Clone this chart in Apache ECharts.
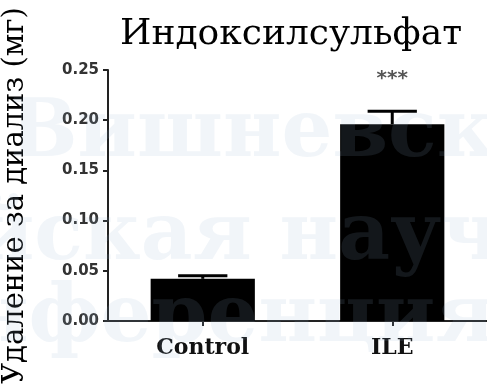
<!DOCTYPE html>
<html><head><meta charset="utf-8">
<script src="https://cdn.jsdelivr.net/npm/echarts@6/dist/echarts.min.js"></script>
<style>html,body{margin:0;padding:0;background:#fff}#c{width:487px;height:387px}</style>
</head><body><div id="c"></div>
<script>
const categories = ['Control', 'ILE'];
const means = [0.042, 0.196];
const errors = [0.003, 0.013];
const significance = ['', '***'];
const yTicks = [0, 0.05, 0.10, 0.15, 0.20, 0.25];
const titleText = 'Индоксилсульфат';
const yName = 'Удаление за диализ (мг)';
const watermarkLines = ['Вишневская', 'йская научная', 'нференция'];

const chart = echarts.init(document.getElementById('c'), null, {renderer: 'canvas'});
const errData = categories.map((c, i) => [i, means[i], errors[i], significance[i]]);

function renderErr(params, api) {
  const i = api.value(0), m = api.value(1), e = api.value(2);
  const sig = significance[i];
  const top = api.coord([i, m + e]);
  const base = api.coord([i, m]);
  const band = api.size([1, 0])[0];
  const capHalf = band * 0.13;
  const children = [
    {type: 'line', shape: {x1: top[0], y1: base[1], x2: top[0], y2: top[1]}, style: {stroke: '#000', lineWidth: 3}},
    {type: 'line', shape: {x1: top[0] - capHalf, y1: top[1], x2: top[0] + capHalf, y2: top[1]}, style: {stroke: '#000', lineWidth: 3}}
  ];
  if (sig) {
    children.push({type: 'text', style: {x: top[0], y: top[1] - 32, text: sig, textAlign: 'center', textVerticalAlign: 'middle', font: 'bold 20px "DejaVu Sans"', fill: '#555'}});
  }
  return {type: 'group', children};
}

const wmStyle = {fill: 'rgba(150,175,205,0.13)', font: 'bold 80px "DejaVu Serif"'};
chart.setOption({
  animation: false,
  title: {text: titleText, left: 115, top: 12, textStyle: {fontFamily: 'DejaVu Serif', fontWeight: 'normal', fontSize: 36, color: '#000'}},
  grid: {left: 108, right: 0, top: 70, bottom: 66, containLabel: false, outerBoundsMode: 'none'},
  xAxis: {
    type: 'category', data: categories,
    axisLine: {lineStyle: {color: '#222', width: 2}},
    axisTick: {show: true, alignWithLabel: true, length: 5, lineStyle: {color: '#222', width: 2}},
    axisLabel: {fontFamily: 'DejaVu Serif', fontWeight: 'bold', fontSize: 22, color: '#111', margin: 16}
  },
  yAxis: {
    type: 'value', min: 0, max: 0.25, interval: 0.05,
    name: yName, nameLocation: 'middle', nameRotate: 90, nameGap: 78,
    nameTextStyle: {fontFamily: '"DejaVu Serif", serif', fontSize: 29, color: '#000'},
    axisLine: {show: true, lineStyle: {color: '#222', width: 2}},
    axisTick: {show: true, length: 5, lineStyle: {color: '#222', width: 2}},
    splitLine: {show: false},
    axisLabel: {fontFamily: 'DejaVu Sans', fontWeight: 'bold', fontSize: 15, color: '#333', margin: 9,
      formatter: v => v.toFixed(2)}
  },
  series: [
    {type: 'bar', data: means, barWidth: '55%', itemStyle: {color: '#000'}, z: 2},
    {type: 'custom', data: errData, renderItem: renderErr, encode: {x: 0, y: 1}, z: 3}
  ],
  graphic: [
    {type: 'text', z: 100, silent: true, style: Object.assign({x: 10, y: 135, text: watermarkLines[0], textVerticalAlign: 'middle'}, wmStyle)},
    {type: 'text', z: 100, silent: true, style: Object.assign({x: -25, y: 238, text: watermarkLines[1], textVerticalAlign: 'middle'}, wmStyle)},
    {type: 'text', z: 100, silent: true, style: Object.assign({x: -30, y: 320, text: watermarkLines[2], textVerticalAlign: 'middle'}, wmStyle)}
  ]
});
</script></body></html>
